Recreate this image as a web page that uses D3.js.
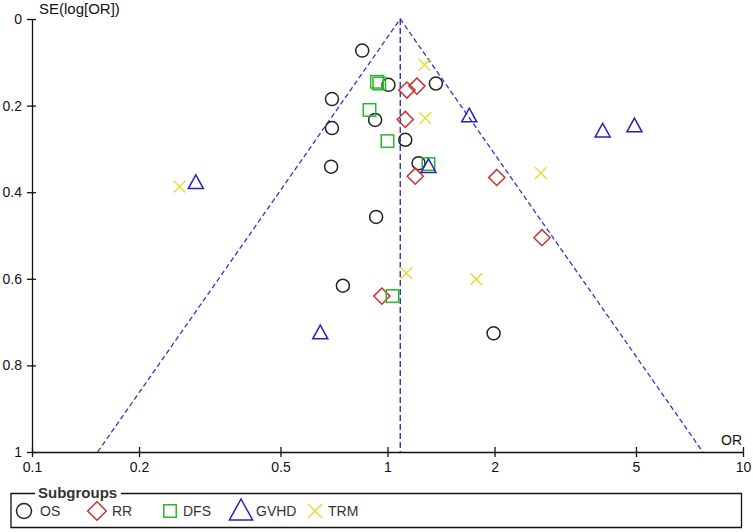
<!DOCTYPE html>
<html>
<head>
<meta charset="utf-8">
<script src="https://cdn.jsdelivr.net/npm/d3@7"></script>
<style>
  body { margin: 0; background: #fff; }
  svg { font-family: "Liberation Sans", Arial, sans-serif; }
</style>
</head>
<body>
<div id="chart-area"></div>
<script>
// data: [OR, SE(log OR)]
var osData = [[0.849,0.073],[1.006,0.152],[1.368,0.149],[0.698,0.185],[0.923,0.233],[0.698,0.252],
              [1.122,0.279],[0.694,0.341],[1.223,0.333],[0.929,0.457],[0.749,0.616],[1.988,0.726]];
var rrData = [[1.134,0.164],[1.210,0.155],[1.122,0.232],[1.197,0.363],[2.03,0.366],[2.72,0.505],[0.964,0.640]];
var dfsData = [[0.934,0.145],[0.948,0.149],[0.890,0.210],[1.0,0.282],[1.304,0.335],[1.033,0.640]];
var gvhdData = [[1.698,0.224],[4.03,0.259],[4.95,0.247],[1.304,0.341],[0.289,0.378],[0.647,0.725]];
var trmData = [[1.271,0.106],[1.277,0.229],[2.70,0.356],[0.260,0.387],[1.129,0.587],[1.777,0.601]];
var pooledOR = 1.086;
var xTicks = [0.1, 0.2, 0.5, 1, 2, 5, 10];
var yTicks = [0, 0.2, 0.4, 0.6, 0.8, 1];
var groups = ['OS', 'RR', 'DFS', 'GVHD', 'TRM'];

var def = {
    width: 753,
    height: 532,
    left: 32,
    top: 19,
    plotW: 711,
    plotH: 433
};

var colors = { OS: '#222', RR: '#c83232', DFS: '#2cb52c', GVHD: '#2424b4', TRM: '#e4dc3c' };

var svg = d3.select('#chart-area').append('svg')
    .attr('width', def.width)
    .attr('height', def.height);
var g = svg.append('g')
    .attr('transform', 'translate(' + def.left + ',' + def.top + ')');

var x = d3.scaleLog().domain([0.1, 10]).range([0, def.plotW]);
var y = d3.scaleLinear().domain([0, 1]).range([0, def.plotH]);

// funnel lines (95% limits round the pooled OR)
var funnel = [[pooledOR * Math.exp(-1.96), 1], [pooledOR, 0], [pooledOR * Math.exp(1.96), 1]];
g.append('path')
    .attr('d', d3.line().x(d => x(d[0])).y(d => y(d[1]))(funnel))
    .attr('fill', 'none')
    .attr('stroke', '#3434c8')
    .attr('stroke-width', 1.3)
    .attr('stroke-dasharray', '5,3');
g.append('line')
    .attr('x1', x(pooledOR)).attr('x2', x(pooledOR))
    .attr('y1', y(0)).attr('y2', y(1))
    .attr('stroke', '#2424a8')
    .attr('stroke-width', 1.3)
    .attr('stroke-dasharray', '6,3');

// axes
var xAxis = d3.axisBottom(x).tickValues(xTicks).tickFormat(d3.format('')).tickSize(5).tickSizeOuter(0);
var xLeg = g.append('g').attr('transform', 'translate(0,' + def.plotH + ')').call(xAxis);
xLeg.selectAll('.tick line').attr('y1', -5).attr('y2', 5);
xLeg.selectAll('.tick text').attr('y', 20).attr('dy', 0);

var yAxis = d3.axisLeft(y).tickValues(yTicks).tickFormat(d3.format('')).tickSize(5).tickSizeOuter(0);
var yLeg = g.append('g').call(yAxis);
yLeg.selectAll('.tick line').attr('x1', -5).attr('x2', 4);
yLeg.selectAll('.tick text').attr('x', -10);

[xLeg, yLeg].forEach(function(a) {
    a.selectAll('text').attr('font-size', '14px').attr('fill', '#111')
        .attr('font-family', '"Liberation Sans", Arial, sans-serif');
    a.selectAll('line, path').attr('stroke', '#111').attr('stroke-width', 1.3);
});

g.append('text').attr('x', 7).attr('y', -5).attr('font-size', '15px').attr('fill', '#111').text('SE(log[OR])');
g.append('text').attr('x', def.plotW - 1).attr('y', def.plotH - 7).attr('text-anchor', 'end')
    .attr('font-size', '14px').attr('fill', '#111').text('OR');

// markers
function drawMarker(sel, type, s) {
    var c = colors[type];
    var m = sel.append('g').attr('fill', 'none').attr('stroke', c).attr('stroke-width', 1.5);
    if (type === 'OS') {
        m.append('circle').attr('r', s * 0.5);
    } else if (type === 'RR') {
        var h = s * 0.62;
        m.append('path').attr('d', 'M0,' + (-h) + 'L' + h + ',0L0,' + h + 'L' + (-h) + ',0Z');
    } else if (type === 'DFS') {
        m.append('rect').attr('x', -s * 0.48).attr('y', -s * 0.48).attr('width', s * 0.96).attr('height', s * 0.96);
    } else if (type === 'GVHD') {
        var w = s * 0.58, t = s * 0.6, b = s * 0.45;
        m.append('path').attr('d', 'M0,' + (-t) + 'L' + w + ',' + b + 'L' + (-w) + ',' + b + 'Z');
    } else {
        var k = s * 0.45;
        m.append('path').attr('d', 'M' + (-k) + ',' + (-k) + 'L' + k + ',' + k + 'M' + k + ',' + (-k) + 'L' + (-k) + ',' + k);
    }
    return m;
}

var series = [['OS', osData], ['RR', rrData], ['DFS', dfsData], ['GVHD', gvhdData], ['TRM', trmData]];
series.forEach(function(sr) {
    var pts = g.selectAll('g.pt-' + sr[0])
        .data(sr[1])
        .enter()
        .append('g')
        .attr('class', 'pt-' + sr[0])
        .attr('transform', d => 'translate(' + x(d[0]) + ',' + y(d[1]) + ')');
    pts.each(function() { drawMarker(d3.select(this), sr[0], 13); });
});

// legend
var leg = svg.append('g');
leg.append('path')
    .attr('d', 'M35,493.5 L11,493.5 L11,527.5 L741.5,527.5 L741.5,493.5 L121,493.5')
    .attr('fill', 'none').attr('stroke', '#111').attr('stroke-width', 1.3);
leg.append('text').attr('x', 38).attr('y', 498).attr('font-size', '15px').attr('font-weight', 'bold')
    .attr('fill', '#333').text('Subgroups');
var legX = [24, 97, 170, 241, 315];
var legTextX = [40, 112, 183, 256, 328];
var legSize = { OS: 15, RR: 15, DFS: 13, GVHD: 20, TRM: 16 };
groups.forEach(function(name, i) {
    var it = leg.append('g').attr('transform', 'translate(' + legX[i] + ',511)');
    drawMarker(it, name, legSize[name]);
    leg.append('text').attr('x', legTextX[i]).attr('y', 516)
        .attr('font-size', '14px').attr('fill', '#333').text(name);
});
</script>
</body>
</html>
